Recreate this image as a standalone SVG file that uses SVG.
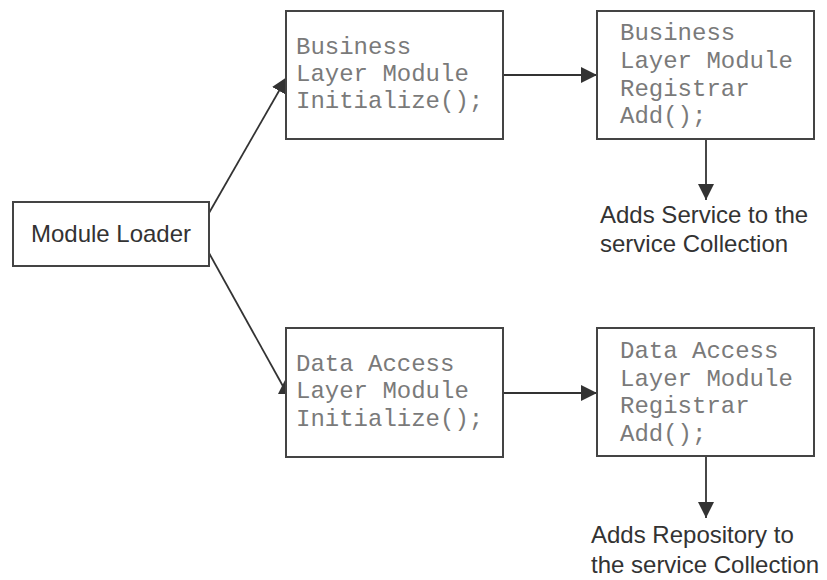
<svg xmlns="http://www.w3.org/2000/svg" width="827" height="580" viewBox="0 0 827 580">
<defs>
<style>
.box{fill:#fff;stroke:#444;stroke-width:2}
.mono{font-family:"Liberation Mono","Courier New",monospace;font-size:24px;fill:#7a7a7a}
.sans{font-family:"Liberation Sans",Arial,sans-serif;font-size:24px;fill:#333}
.conn{stroke:#333;stroke-width:1.8;fill:none}
.head{fill:#333}
</style>
<marker id="arrA" viewBox="0 0 16 16" refX="16" refY="8" markerWidth="16" markerHeight="16" markerUnits="userSpaceOnUse" orient="auto"><path d="M0,0 L16,8 L0,16 Z" fill="#333"/></marker>
</defs>
<rect width="827" height="580" fill="#fff"/>
<g id="connectors">
<line class="conn" x1="209" y1="213" x2="287" y2="77" marker-end="url(#arrA)"/>
<line class="conn" x1="209" y1="253" x2="284" y2="388"/>
<path class="head" d="M285,380 L294,394 L278,394 Z"/>
<line class="conn" x1="503" y1="75" x2="597" y2="75" marker-end="url(#arrA)"/>
<line class="conn" x1="503" y1="393" x2="597" y2="393" marker-end="url(#arrA)"/>
<line class="conn" x1="706" y1="139" x2="706" y2="200" marker-end="url(#arrA)"/>
<line class="conn" x1="706" y1="456" x2="706" y2="518" marker-end="url(#arrA)"/>
</g>
<g id="module-loader">
<rect class="box" x="13" y="202" width="196" height="64"/>
<text class="sans" x="111" y="242" text-anchor="middle">Module Loader</text>
</g>
<g id="business-init">
<rect class="box" x="286" y="11" width="217" height="128"/>
<text class="mono" x="296" y="54">Business</text>
<text class="mono" x="296" y="81">Layer Module</text>
<text class="mono" x="296" y="108">Initialize();</text>
</g>
<g id="business-registrar">
<rect class="box" x="597" y="11" width="217" height="128"/>
<text class="mono" x="620" y="40">Business</text>
<text class="mono" x="620" y="68">Layer Module</text>
<text class="mono" x="620" y="96">Registrar</text>
<text class="mono" x="620" y="123">Add();</text>
</g>
<g id="business-result">
<text class="sans" x="600" y="223">Adds Service to the</text>
<text class="sans" x="600" y="252">service Collection</text>
</g>
<g id="data-init">
<rect class="box" x="286" y="328" width="217" height="129"/>
<text class="mono" x="296" y="371">Data Access</text>
<text class="mono" x="296" y="398">Layer Module</text>
<text class="mono" x="296" y="426">Initialize();</text>
</g>
<g id="data-registrar">
<rect class="box" x="597" y="328" width="217" height="128"/>
<text class="mono" x="620" y="358">Data Access</text>
<text class="mono" x="620" y="386">Layer Module</text>
<text class="mono" x="620" y="413">Registrar</text>
<text class="mono" x="620" y="441">Add();</text>
</g>
<g id="data-result">
<text class="sans" x="591" y="543">Adds Repository to</text>
<text class="sans" x="591" y="573">the service Collection</text>
</g>
</svg>
